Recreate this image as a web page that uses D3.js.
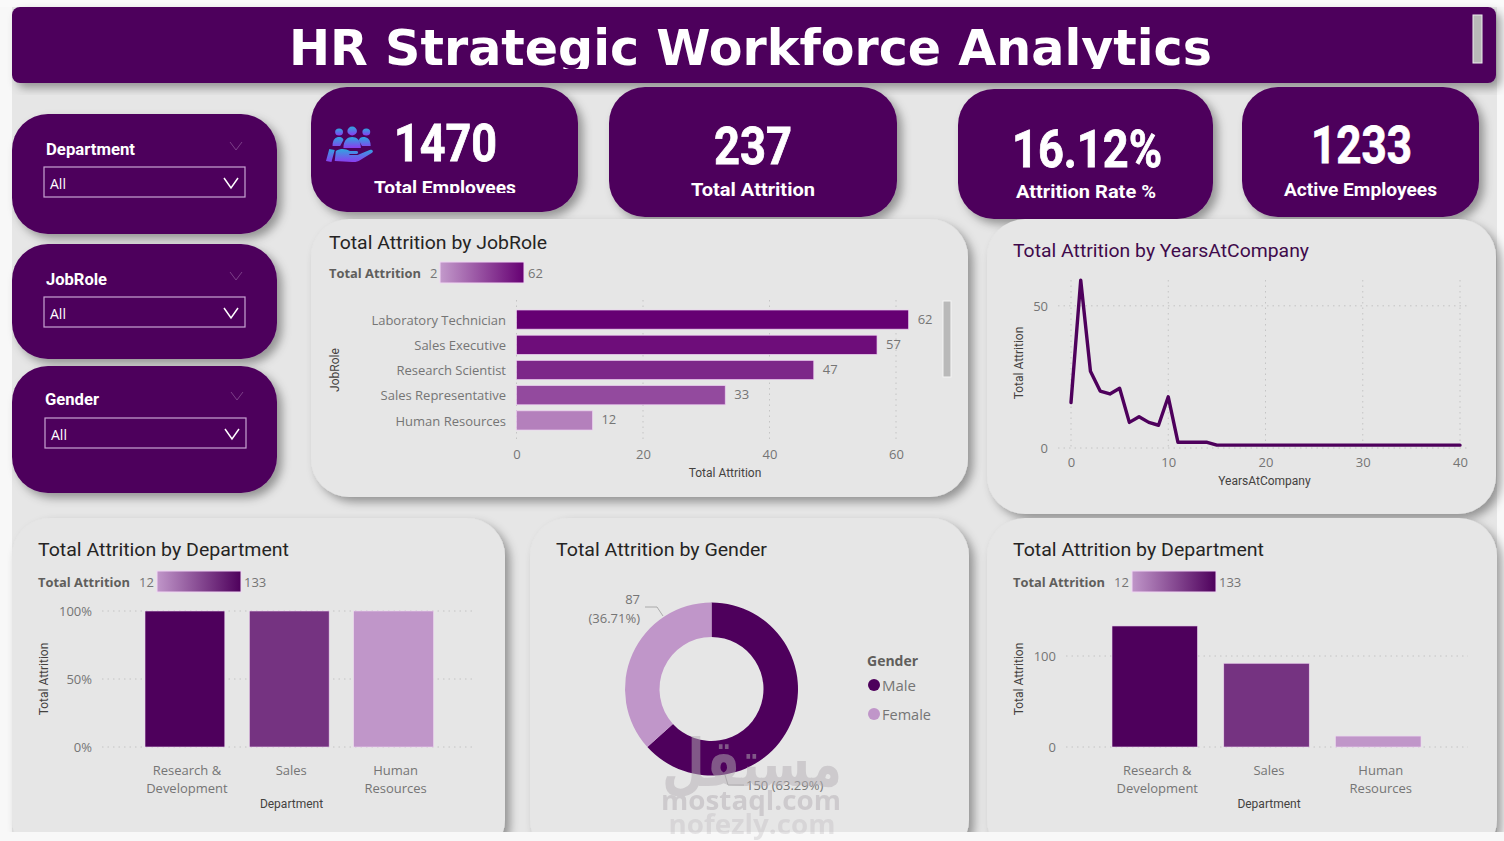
<!DOCTYPE html>
<html><head><meta charset="utf-8">
<script src="https://cdn.jsdelivr.net/npm/d3@7/dist/d3.min.js"></script>
<style>html,body{margin:0;padding:0;background:#f8f8f8;overflow:hidden}svg{display:block}</style>
</head><body><svg id="c" width="1504" height="841"></svg>
<script>
const jobRoles=["Laboratory Technician","Sales Executive","Research Scientist","Sales Representative","Human Resources"];
const jobRoleAttrition=[62,57,47,33,12];
const jobRoleTicks=[0,20,40,60];
const years=[0,1,2,3,4,5,6,7,8,9,10,11,12,13,14,15,20,25,30,35,40];
const yearsAttrition=[16,59,27,20,19,21,9,11,9,8,18,2,2,2,2,1,1,1,1,1,1];
const yearTicks=[0,10,20,30,40];
const yearValueTicks=[0,50];
const departments=["Research & Development","Sales","Human Resources"];
const departmentAttrition=[133,92,12];
const departmentShare=[100,100,100];
const shareTicks=[0,50,100];
const departmentTicks=[0,100];
const genders=["Male","Female"];
const genderAttrition=[150,87];
const slicers=["Department","JobRole","Gender"];

const PURPLE="#4e005c",LIGHT="#c096c9",SANS="'Open Sans','Noto Sans',sans-serif",DIN="Roboto,Lato,sans-serif",GREY="#757575";
const svg=d3.select("#c");
const defs=svg.append("defs");
const sh=defs.append("filter").attr("id","sh").attr("x","-10%").attr("y","-10%").attr("width","125%").attr("height","125%");
sh.append("feDropShadow").attr("dx",5).attr("dy",5).attr("stdDeviation",5).attr("flood-color","#000").attr("flood-opacity",.36);
function grad(id,a,b,dir){const g=defs.append("linearGradient").attr("id",id);
 if(dir){g.attr("x1",0).attr("y1",0).attr("x2",0).attr("y2",1)}
 g.append("stop").attr("offset",0).attr("stop-color",a);g.append("stop").attr("offset",1).attr("stop-color",b);}
grad("g1","#c39acb","#660073");grad("g2",LIGHT,PURPLE);grad("ic","#2fa6e0","#8a3df0",true);
defs.append("clipPath").attr("id","tc").append("rect").attr("x",12).attr("y",7).attr("width",1484).attr("height",62);
defs.append("clipPath").attr("id","kc").append("rect").attr("x",320).attr("y",100).attr("width",240).attr("height",93);

function box(x,y,w,h,r,fill){return svg.append("rect").attr("x",x).attr("y",y).attr("width",w).attr("height",h).attr("rx",r).attr("fill",fill).attr("filter","url(#sh)");}
function txt(x,y,s,o={},p=svg){const t=p.append("text").attr("x",x).attr("y",y).text(s)
 .attr("font-family",o.family||SANS).attr("font-size",o.size||13).attr("font-weight",o.weight||400)
 .attr("fill",o.fill||GREY).attr("text-anchor",o.anchor||"start");
 if(o.len)t.attr("textLength",o.len).attr("lengthAdjust","spacingAndGlyphs");
 if(o.rot)t.attr("transform",`rotate(-90 ${x} ${y})`);
 return t;}
function dots(x1,y1,x2,y2){svg.append("line").attr("x1",x1).attr("y1",y1).attr("x2",x2).attr("y2",y2)
 .attr("stroke","#c4c4c4").attr("stroke-width",1).attr("stroke-dasharray","1.5 4");}
function styleAxis(g){g.select(".domain").remove();g.selectAll(".tick line").remove();
 g.selectAll("text").attr("font-family",SANS).attr("font-size",13).attr("fill",GREY);}
function colorbar(x,y,labelX,lo,hi,lox,hix,id,lw){
 txt(labelX,y+16,"Total Attrition",{size:13,weight:700,fill:"#605e5c",family:SANS,len:lw});
 txt(lox,y+16,lo,{size:13});txt(hix,y+16,hi,{size:13});
 svg.append("rect").attr("x",x).attr("y",y).attr("width",84).attr("height",21).attr("fill",`url(#${id})`).attr("stroke","#f0d6f3").attr("stroke-width",1);
}
function chevron(cx,cy,w,h,stroke,sw){svg.append("path").attr("d",`M${cx-w},${cy-h}L${cx},${cy+h}L${cx+w},${cy-h}`).attr("fill","none").attr("stroke",stroke).attr("stroke-width",sw);}

// canvas
svg.append("rect").attr("x",12).attr("y",0).attr("width",1485).attr("height",832).attr("fill","#e6e6e6");
svg.append("rect").attr("x",0).attr("y",0).attr("width",1504).attr("height",7).attr("fill","#fafafa");

// header
box(12,7,1484,76,8,PURPLE);
txt(289,65,"HR Strategic Workforce Analytics",{size:50.5,weight:700,fill:"#fff",family:"'DejaVu Sans',sans-serif",len:923}).attr("clip-path","url(#tc)");
svg.append("rect").attr("x",1473).attr("y",15).attr("width",9).attr("height",48).attr("fill","#b9b9b9").attr("stroke","#eee").attr("stroke-width",1);

// slicers
[[114,120,149,167],[244,115,279,297],[366,127,399,418]].forEach((r,i)=>{
 box(12,r[0],265,r[1],36,PURPLE);
 const ox=i===2?1:0;
 txt(46-ox,r[2]+6,slicers[i],{size:16,weight:700,fill:"#fff",family:DIN,len:[89,61,54][i]});
 chevron(236+ox,r[2]-3,6,4,"#7c3f88",1);
 svg.append("rect").attr("x",44+ox).attr("y",r[3]).attr("width",201).attr("height",30).attr("fill","none").attr("stroke","#c9a3d2").attr("stroke-width",1.2);
 txt(50+ox,r[3]+22,"All",{size:14,fill:"#fff"});
 chevron(231+ox,r[3]+16,7,5,"#fff",1.5);
});

// KPI cards
box(311,87,267,125,36,PURPLE);box(609,87,288,130,36,PURPLE);box(958,89,255,130,36,PURPLE);box(1242,87,237,130,36,PURPLE);
const big={size:52,weight:700,fill:"#fff",family:DIN};
txt(394,161,"1470",{...big,len:103}).attr("stroke","#fff").attr("stroke-width",.8);
txt(714,164,"237",{...big,len:78}).attr("stroke","#fff").attr("stroke-width",.8);
txt(1012,167,"16.12%",{...big,len:150}).attr("stroke","#fff").attr("stroke-width",.8);
txt(1311,163,"1233",{...big,len:101}).attr("stroke","#fff").attr("stroke-width",.8);
const lab={size:18,weight:700,fill:"#fff",family:DIN};
txt(374,194,"Total Employees",{...lab,len:142}).attr("clip-path","url(#kc)");
txt(691,196,"Total Attrition",{...lab,len:124});
txt(1016,198,"Attrition Rate %",{...lab,len:140});
txt(1284,196,"Active Employees",{...lab,len:153});
// people-in-hand icon
const ic=svg.append("g").attr("fill","url(#ic)").attr("transform","translate(326,126) scale(1.09,1) translate(-326,-126)");
[[338,132,3.6],[350,131,4.4],[363,132,3.6]].forEach(c=>ic.append("circle").attr("cx",c[0]).attr("cy",c[1]).attr("r",c[2]));
ic.append("path").attr("d","M332,146c0-7 3-9 6-9s4,2 4,3l-3,6zM342,148c0-8 4-11 8-11s8,3 8,11zM359,146l-3-6c1-2 2-3 4-3 4,0 7,2 7,9z");
ic.append("path").attr("d","M329,149l5,1-3,12-5-1zM335,151c5-3 9-2 13,0h6c2,0 2,3 0,3h-7l1,1h7l11-5c3-1 4,2 2,3l-12,8c-2,1-4,1-6,1l-16-1z");

// white-ish chart cards
const CARD="#e6e6e6";
box(311,219,657,278,38,CARD);box(987,219,509,295,38,CARD);
box(12,518,493,340,38,CARD);box(530,518,439,340,38,CARD);box(987,518,510,340,38,CARD);
const cardTitle={size:18.5,family:DIN,fill:"#252423"};
txt(329,249,"Total Attrition by JobRole",{...cardTitle,len:218});
txt(1013,257,"Total Attrition by YearsAtCompany",{...cardTitle,fill:"#3f0a4b",len:296});
txt(38,556,"Total Attrition by Department",{...cardTitle,len:251});
txt(556,556,"Total Attrition by Gender",{...cardTitle,len:211});
txt(1013,556,"Total Attrition by Department",{...cardTitle,len:251});
const axT={size:12,family:DIN,fill:"#44423f",weight:400};

// --- JobRole bars
colorbar(440,262,329,"2","62",430,528,"g1",92);
const jx=d3.scaleLinear().domain([0,60]).range([516.5,896]);
const jy=d3.scaleBand().domain(jobRoles).range([310,430]).paddingInner(.24);
const jc=d3.scaleLinear().domain([2,62]).range(["#c39acb","#660073"]);
jobRoleTicks.forEach(t=>dots(jx(t),300,jx(t),442));
svg.append("g").selectAll("rect").data(jobRoles).join("rect").attr("x",jx(0)).attr("y",d=>jy(d))
 .attr("width",(d,i)=>jx(jobRoleAttrition[i])-jx(0)).attr("height",jy.bandwidth())
 .attr("fill",(d,i)=>jc(jobRoleAttrition[i])).attr("stroke","#eccdf0").attr("stroke-width",.7);
svg.append("g").selectAll("text").data(jobRoles).join("text").attr("x",(d,i)=>jx(jobRoleAttrition[i])+9)
 .attr("y",d=>jy(d)+jy.bandwidth()/2+4).text((d,i)=>jobRoleAttrition[i]).attr("font-family",SANS).attr("font-size",13).attr("fill",GREY);
svg.append("g").attr("transform","translate(506,1)").call(d3.axisLeft(jy).tickSize(0).tickPadding(0)).call(styleAxis);
svg.append("g").attr("transform","translate(0,459)").call(d3.axisBottom(jx).tickValues(jobRoleTicks).tickSize(0).tickPadding(0)).call(styleAxis).selectAll("text").attr("dy",0);
txt(725,477,"Total Attrition",{...axT,anchor:"middle"});
txt(339,370,"JobRole",{...axT,anchor:"middle",rot:true});
svg.append("rect").attr("x",943).attr("y",301).attr("width",8).attr("height",76).attr("fill","#b9b9b9").attr("stroke","#f4f4f4").attr("stroke-width",1);

// --- Years line
const lx=d3.scaleLinear().domain([0,40]).range([1071,1460]);
const ly=d3.scaleLinear().domain([0,50]).range([448,305.8]);
yearTicks.forEach(t=>dots(lx(t),280,lx(t),448));
yearValueTicks.forEach(t=>dots(1058,ly(t),1468,ly(t)));
svg.append("path").datum(years).attr("fill","none").attr("stroke",PURPLE).attr("stroke-width",3.4).attr("stroke-linejoin","round").attr("stroke-linecap","round")
 .attr("d",d3.line().x(d=>lx(d)).y((d,i)=>ly(yearsAttrition[i])));
svg.append("g").attr("transform","translate(0,467)").call(d3.axisBottom(lx).tickValues(yearTicks).tickSize(0).tickPadding(0)).call(styleAxis).selectAll("text").attr("dy",0);
svg.append("g").attr("transform","translate(1048,0.5)").call(d3.axisLeft(ly).tickValues(yearValueTicks).tickSize(0).tickPadding(0)).call(styleAxis);
txt(1264.5,485,"YearsAtCompany",{...axT,anchor:"middle"});
txt(1023,363,"Total Attrition",{...axT,anchor:"middle",rot:true});

// --- Department helpers
const dc=d3.scaleLinear().domain([12,133]).range([LIGHT,PURPLE]);
function catAxis(sel,dx){
 sel.call(styleAxis);
 sel.selectAll("text").each(function(d){
  const parts=d.lastIndexOf(" ")>0?[d.slice(0,d.lastIndexOf(" ")),d.slice(d.lastIndexOf(" ")+1)]:[d];
  const t=d3.select(this).text(null).attr("y",0).attr("dy",0);
  parts.forEach((p,i)=>t.append("tspan").attr("x",dx).attr("y",i*18).text(p));
 });
}
function deptBars(x,y,vals){
 svg.append("g").selectAll("rect").data(departments).join("rect").attr("x",d=>x(d)).attr("width",x.bandwidth())
  .attr("y",(d,i)=>y(vals[i])).attr("height",(d,i)=>y(0)-y(vals[i]))
  .attr("fill",(d,i)=>dc(departmentAttrition[i])).attr("stroke","#eed8f1").attr("stroke-width",.6);
}
// 100% chart
colorbar(157,571,38,"12","133",139,244,"g2",92);
const d1x=d3.scaleBand().domain(departments).range([145,433.5]).paddingInner(.235);
const d1y=d3.scaleLinear().domain([0,100]).range([747,611]);
shareTicks.forEach(t=>dots(102,d1y(t),476,d1y(t)));
deptBars(d1x,d1y,departmentShare);
svg.append("g").attr("transform","translate(92,0)").call(d3.axisLeft(d1y).tickValues(shareTicks).tickFormat(d=>d+"%").tickSize(0).tickPadding(0)).call(styleAxis);
svg.append("g").attr("transform","translate(0,775)").call(d3.axisBottom(d1x).tickSize(0).tickPadding(0)).call(catAxis,2);
txt(291.5,808,"Department",{...axT,anchor:"middle"});
txt(48,679,"Total Attrition",{...axT,anchor:"middle",rot:true});
// count chart
colorbar(1132,571,1013,"12","133",1114,1219,"g2",92);
const d2x=d3.scaleBand().domain(departments).range([1112,1421]).paddingInner(.235);
const d2y=d3.scaleLinear().domain([0,100]).range([747,656]);
departmentTicks.forEach(t=>dots(1066,d2y(t),1468,d2y(t)));
deptBars(d2x,d2y,departmentAttrition);
svg.append("g").attr("transform","translate(1056,0)").call(d3.axisLeft(d2y).tickValues(departmentTicks).tickSize(0).tickPadding(0)).call(styleAxis);
svg.append("g").attr("transform","translate(0,775)").call(d3.axisBottom(d2x).tickSize(0).tickPadding(0)).call(catAxis,2.5);
txt(1269,808,"Department",{...axT,anchor:"middle"});
txt(1023,679,"Total Attrition",{...axT,anchor:"middle",rot:true});

// --- Gender donut
const genderColor=d3.scaleOrdinal().domain(genders).range([PURPLE,LIGHT]);
const pie=d3.pie().sort(null)(genderAttrition);
const total=d3.sum(genderAttrition);
const pct=v=>(v/total*100).toFixed(2)+"%";
const arc=d3.arc().innerRadius(52).outerRadius(86.5);
svg.append("g").attr("transform","translate(711.5,689)").selectAll("path").data(pie).join("path").attr("d",arc).attr("fill",(d,i)=>genderColor(genders[i]));
svg.append("path").attr("d","M645,607H657L663,616M725,775L728,785H744").attr("fill","none").attr("stroke","#9a9a9a").attr("stroke-width",.8);
txt(640,604,genderAttrition[1],{anchor:"end"});
txt(640,623,`(${pct(genderAttrition[1])})`,{anchor:"end"});
txt(746,790,`${genderAttrition[0]} (${pct(genderAttrition[0])})`,{});
txt(867,666,"Gender",{size:14,weight:700,fill:"#605e5c"});
genders.forEach((g,i)=>{
 svg.append("circle").attr("cx",874).attr("cy",685+i*29).attr("r",6).attr("fill",genderColor(g));
 txt(882,691+i*29,g,{size:15,len:g==="Male"?34:49});
});

// bottom strip
svg.append("rect").attr("x",0).attr("y",832).attr("width",1504).attr("height",9).attr("fill","#f8f8f8");

// watermark
const wm=svg.append("g").attr("fill","#b5b0b5").attr("opacity",.5).attr("text-anchor","middle");
wm.append("text").attr("x",752).attr("y",786).attr("font-family","'DejaVu Sans',sans-serif").attr("font-weight",700).attr("font-size",66).attr("textLength",180).attr("lengthAdjust","spacingAndGlyphs").text("مستقل");
wm.append("text").attr("x",751).attr("y",810).attr("font-family",SANS).attr("font-weight",700).attr("font-size",27).attr("textLength",180).attr("lengthAdjust","spacingAndGlyphs").text("mostaql.com");
wm.append("text").attr("x",752).attr("y",834).attr("font-family",SANS).attr("font-weight",700).attr("font-size",26).attr("textLength",167).attr("lengthAdjust","spacingAndGlyphs").attr("opacity",.6).text("nofezly.com");
</script></body></html>
